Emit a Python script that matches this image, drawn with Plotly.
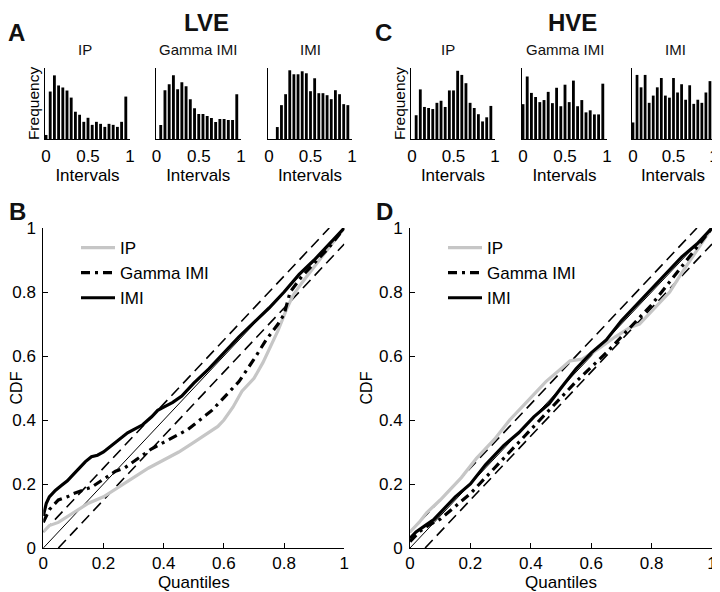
import plotly.graph_objects as go
from plotly.subplots import make_subplots

# Histogram bins (centres), shared by all six panels
BIN_CENTERS = [round(0.05 * k, 2) for k in range(20)]

# LVE histograms (relative frequency, arbitrary units)
LVE_IP = [4, 47, 63, 53, 51, 48, 41, 27, 24, 17, 21, 14, 17, 15, 12, 15, 14, 12, 17, 42]
LVE_GAMMA = [0, 14, 49, 55, 64, 50, 57, 53, 40, 31, 25, 25, 23, 21, 17, 20, 20, 19, 19, 45]
LVE_IMI = [0, 0, 12, 34, 45, 69, 65, 65, 68, 66, 48, 61, 46, 46, 44, 40, 49, 45, 35, 34]

# HVE histograms
HVE_IP = [0, 23, 48, 31, 30, 29, 35, 37, 31, 47, 47, 66, 62, 54, 35, 30, 24, 17, 21, 32]
HVE_GAMMA = [34, 61, 45, 41, 36, 38, 46, 35, 50, 32, 53, 36, 57, 32, 38, 26, 28, 24, 24, 54]
HVE_IMI = [16, 62, 50, 62, 35, 42, 50, 59, 42, 40, 59, 45, 53, 38, 52, 34, 38, 35, 45, 56]

# LVE CDFs against uniform quantiles
B_IP_X = [0, 0.02, 0.05, 0.1, 0.15, 0.2, 0.25, 0.3, 0.35, 0.4, 0.45, 0.5, 0.55, 0.58,
          0.6, 0.63, 0.66, 0.7, 0.73, 0.75, 0.78, 0.81, 0.83, 0.86, 0.9, 0.95, 1]
B_IP_Y = [0.05, 0.07, 0.08, 0.11, 0.14, 0.16, 0.19, 0.22, 0.25, 0.275, 0.3, 0.33, 0.36, 0.38,
          0.4, 0.44, 0.49, 0.53, 0.58, 0.62, 0.68, 0.75, 0.79, 0.83, 0.88, 0.94, 1.0]
B_GAMMA_X = [0, 0.02, 0.05, 0.08, 0.1, 0.13, 0.16, 0.2, 0.24, 0.27, 0.3, 0.33, 0.36, 0.4, 0.44,
             0.48, 0.52, 0.56, 0.6, 0.65, 0.7, 0.74, 0.78, 0.8, 0.82, 0.86, 0.9, 0.95, 1]
B_GAMMA_Y = [0.08, 0.12, 0.15, 0.16, 0.17, 0.18, 0.19, 0.215, 0.24, 0.25, 0.27, 0.29, 0.31, 0.33, 0.35,
             0.37, 0.4, 0.43, 0.47, 0.52, 0.59, 0.65, 0.7, 0.73, 0.8, 0.85, 0.89, 0.94, 1.0]
B_IMI_X = [0, 0.01, 0.02, 0.04, 0.06, 0.08, 0.1, 0.12, 0.14, 0.16, 0.18, 0.2, 0.22, 0.25, 0.28, 0.3,
           0.33, 0.36, 0.38, 0.4, 0.43, 0.46, 0.5, 0.55, 0.6, 0.65, 0.7, 0.75, 0.8, 0.85, 0.9, 0.95, 1]
B_IMI_Y = [0.1, 0.14, 0.16, 0.18, 0.195, 0.21, 0.23, 0.25, 0.27, 0.285, 0.29, 0.3, 0.315, 0.335, 0.36, 0.37,
           0.385, 0.41, 0.43, 0.44, 0.455, 0.475, 0.515, 0.56, 0.61, 0.66, 0.705, 0.75, 0.8, 0.855, 0.9, 0.95, 1.0]

# HVE CDFs
D_IP_X = [0, 0.03, 0.055, 0.1, 0.17, 0.22, 0.28, 0.33, 0.39, 0.45, 0.5, 0.53, 0.57, 0.62,
          0.68, 0.73, 0.76, 0.8, 0.86, 0.9, 0.95, 1]
D_IP_Y = [0.05, 0.08, 0.11, 0.15, 0.22, 0.28, 0.34, 0.4, 0.46, 0.52, 0.56, 0.585, 0.59, 0.62,
          0.66, 0.69, 0.7, 0.74, 0.8, 0.86, 0.93, 1.0]
D_GAMMA_X = [0, 0.03, 0.06, 0.1, 0.15, 0.2, 0.25, 0.3, 0.35, 0.4, 0.45, 0.5, 0.55, 0.6, 0.65,
             0.7, 0.75, 0.8, 0.85, 0.9, 0.95, 1]
D_GAMMA_Y = [0.02, 0.05, 0.07, 0.09, 0.13, 0.17, 0.22, 0.27, 0.32, 0.37, 0.42, 0.47, 0.52, 0.565, 0.61,
             0.66, 0.71, 0.76, 0.82, 0.88, 0.94, 1.0]
D_IMI_X = [0, 0.02, 0.05, 0.08, 0.11, 0.15, 0.2, 0.25, 0.31, 0.36, 0.41, 0.46, 0.5, 0.55, 0.6,
           0.65, 0.7, 0.75, 0.8, 0.85, 0.9, 0.95, 1]
D_IMI_Y = [0.03, 0.05, 0.07, 0.09, 0.12, 0.16, 0.2, 0.26, 0.32, 0.36, 0.41, 0.45, 0.5, 0.56, 0.61,
           0.65, 0.71, 0.76, 0.81, 0.86, 0.91, 0.95, 1.0]

# Reference diagonal and confidence band
DIAG_X = [0, 1]
DIAG_Y = [0, 1]
BAND_HI_X = [0, 0.95]
BAND_HI_Y = [0.05, 1]
BAND_LO_X = [0.05, 1]
BAND_LO_Y = [0, 0.95]

FONT = "Liberation Sans, Arial, sans-serif"
GRAY = "#c6c6c6"
W, H = 720, 592
# the page body has an 8px margin, so everything is laid out 8px up/left
PAGE_OFFSET = 8


def px_x(x):
    return (x - PAGE_OFFSET) / W


def px_y(y):
    return 1 - (y - PAGE_OFFSET) / H


HIST_TITLES = ["IP", "Gamma IMI", "IMI", "IP", "Gamma IMI", "IMI"]
HIST_DATA = [LVE_IP, LVE_GAMMA, LVE_IMI, HVE_IP, HVE_GAMMA, HVE_IMI]
HIST_YMAX = [70.3, 71.3, 71.3, 68.7, 69.3, 68.7]
# left / right pixel edges of each histogram
HIST_PX = [(45, 130), (155.5, 241), (268, 352), (411, 495), (522, 607), (632, 714)]

fig = make_subplots(
    rows=2, cols=6,
    specs=[[{}] * 6, [{"colspan": 3}, None, None, {"colspan": 3}, None, None]],
)

for i, counts in enumerate(HIST_DATA):
    fig.add_trace(
        go.Bar(x=BIN_CENTERS, y=counts, marker=dict(color="black", line_width=0),
               showlegend=False),
        row=1, col=i + 1,
    )


def add_cdf_panel(col, ip, gamma, imi, legend):
    fig.add_trace(go.Scatter(x=DIAG_X, y=DIAG_Y, mode="lines", showlegend=False,
                             line=dict(color="black", width=1)), row=2, col=col)
    for bx, by in [(BAND_HI_X, BAND_HI_Y), (BAND_LO_X, BAND_LO_Y)]:
        fig.add_trace(go.Scatter(x=bx, y=by, mode="lines", showlegend=False,
                                 line=dict(color="black", width=1.6, dash="11px,6px")),
                      row=2, col=col)
    fig.add_trace(go.Scatter(x=ip[0], y=ip[1], mode="lines", name="IP", legend=legend,
                             line=dict(color=GRAY, width=3.2)), row=2, col=col)
    fig.add_trace(go.Scatter(x=gamma[0], y=gamma[1], mode="lines", name="Gamma IMI", legend=legend,
                             line=dict(color="black", width=3.2, dash="9px,5px,3px,5px")),
                  row=2, col=col)
    fig.add_trace(go.Scatter(x=imi[0], y=imi[1], mode="lines", name="IMI", legend=legend,
                             line=dict(color="black", width=3.2)), row=2, col=col)


add_cdf_panel(1, (B_IP_X, B_IP_Y), (B_GAMMA_X, B_GAMMA_Y), (B_IMI_X, B_IMI_Y), "legend")
add_cdf_panel(4, (D_IP_X, D_IP_Y), (D_GAMMA_X, D_GAMMA_Y), (D_IMI_X, D_IMI_Y), "legend2")

tick_font = dict(family=FONT, size=17, color="black")
title_font = dict(family=FONT, size=17, color="black")

# histogram axes
for i in range(6):
    x0, x1 = HIST_PX[i]
    fig.update_xaxes(
        domain=[px_x(x0), px_x(x1)], range=[-0.012, 1.0], tickvals=[0, 0.5, 1],
        ticktext=["0", "0.5", "1"], showline=True, linecolor="black", linewidth=1,
        ticks="", showgrid=False, zeroline=False, tickfont=tick_font, automargin=False,
        ticklabelstandoff=2, title=dict(text="Intervals", font=title_font, standoff=2),
        row=1, col=i + 1,
    )
    fig.update_yaxes(
        domain=[px_y(139), px_y(68)], range=[0, HIST_YMAX[i]], showline=True,
        linecolor="black", linewidth=1, showticklabels=False, ticks="",
        showgrid=False, zeroline=False, automargin=False,
        title=dict(text="Frequency" if i in (0, 3) else "",
                   font=dict(family=FONT, size=15.5, color="black"), standoff=0),
        row=1, col=i + 1,
    )

# CDF axes
for col, (x0, x1) in [(1, (43.3, 344.3)), (4, (410, 712))]:
    fig.update_xaxes(
        domain=[px_x(x0), px_x(x1)], range=[0, 1], dtick=0.2, showline=True,
        linecolor="black", linewidth=1, ticks="inside", ticklen=5, tickcolor="black",
        showgrid=False, zeroline=False, tickfont=tick_font, ticklabelstandoff=0,
        automargin=False, title=dict(text="Quantiles", font=title_font, standoff=3),
        row=2, col=col,
    )
    fig.update_yaxes(
        domain=[px_y(548), px_y(228)], range=[0, 1], dtick=0.2, showline=True,
        linecolor="black", linewidth=1, ticks="inside", ticklen=5, tickcolor="black",
        showgrid=False, zeroline=False, tickfont=tick_font, ticklabelstandoff=3,
        automargin=False,
        title=dict(text="CDF", font=dict(family=FONT, size=16, color="black"), standoff=2),
        row=2, col=col,
    )

annotations = []


def label(text, x, y, size, bold=False):
    annotations.append(dict(
        text=f"<b>{text}</b>" if bold else text, x=px_x(x), y=px_y(y),
        xref="paper", yref="paper", showarrow=False, xanchor="center", yanchor="middle",
        borderpad=0, font=dict(family=FONT, size=size, color="#111111"),
    ))


label("LVE", 206, 22, 24, bold=True)
label("HVE", 572, 22, 24, bold=True)
label("A", 16, 33, 24, bold=True)
label("C", 383, 33, 24, bold=True)
label("B", 17, 211, 24, bold=True)
label("D", 384, 211, 24, bold=True)
for name, cx in zip(HIST_TITLES, [85, 198, 310, 448, 565, 675]):
    label(name, cx, 49, 15)

legend_style = dict(
    font=dict(family=FONT, size=17, color="black"), bgcolor="rgba(0,0,0,0)",
    borderwidth=0, yanchor="top", xanchor="left", tracegroupgap=0, itemwidth=34,
)

fig.update_layout(
    width=W, height=H, margin=dict(l=0, r=0, t=0, b=0),
    paper_bgcolor="white", plot_bgcolor="white",
    bargap=0.32, annotations=annotations,
    legend=dict(x=px_x(76), y=px_y(230), **legend_style),
    legend2=dict(x=px_x(443), y=px_y(230), **legend_style),
)

fig.write_html("out.html")
